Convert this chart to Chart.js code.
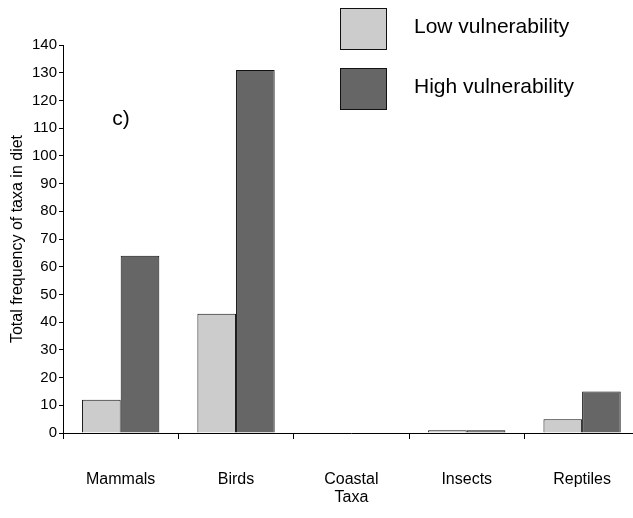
<!DOCTYPE html>
<html>
<head>
<meta charset="utf-8">
<script src="https://cdn.jsdelivr.net/npm/chart.js@4/dist/chart.umd.min.js"></script>
<style>
    body { margin: 0; overflow: hidden; background: #fff; }
    #wrap { position: absolute; left: 0; top: 0; width: 642px; height: 518px; }
</style>
</head>
<body>
<div id="wrap"><canvas id="chart"></canvas></div>
<script>
// Data
const taxa = ['Mammals', 'Birds', 'Coastal', 'Insects', 'Reptiles'];
const lowVulnerability = [12, 43, 0, 1, 5];
const highVulnerability = [64, 131, 0, 1, 15];
const yTicks = [0, 10, 20, 30, 40, 50, 60, 70, 80, 90, 100, 110, 120, 130, 140];

const FONT = 'Arial, "Liberation Sans", sans-serif';

// legend boxes + panel label, drawn on top of the chart
const extras = {
    id: 'extras',
    afterDraw(chart) {
        const ctx = chart.ctx;
        ctx.save();
        chart.data.datasets.forEach((ds, i) => {
            const y = 8 + i * 60;
            ctx.fillStyle = ds.backgroundColor;
            ctx.fillRect(340, y, 46, 41);
            ctx.strokeStyle = '#111';
            ctx.lineWidth = 1;
            ctx.strokeRect(340.5, y + 0.5, 46, 41);
            ctx.fillStyle = '#000';
            ctx.font = '21px ' + FONT;
            ctx.textBaseline = 'middle';
            ctx.fillText(ds.label, 414, y + 19);
        });
        ctx.font = '21px ' + FONT;
        ctx.textBaseline = 'middle';
        ctx.textAlign = 'center';
        ctx.fillText('c)', 121, 119);
        ctx.restore();
    }
};

const ctx = document.getElementById('chart').getContext('2d');
const chart = new Chart(ctx, {
    type: 'bar',
    data: {
        labels: taxa,
        datasets: [{
            label: 'Low vulnerability',
            data: lowVulnerability,
            backgroundColor: '#cccccc',
            borderColor: '#111',
            borderWidth: 1,
            categoryPercentage: 0.67,
            barPercentage: 1.0
        }, {
            label: 'High vulnerability',
            data: highVulnerability,
            backgroundColor: '#666666',
            borderColor: '#111',
            borderWidth: 1,
            categoryPercentage: 0.67,
            barPercentage: 1.0
        }]
    },
    options: {
        responsive: true,
        maintainAspectRatio: false,
        animation: false,
        layout: { padding: { top: 45, right: 0, bottom: 11, left: 0 } },
        plugins: {
            legend: { display: false },
            tooltip: { enabled: false }
        },
        scales: {
            x: {
                afterFit: scale => { scale.height = 74; },
                grid: { drawOnChartArea: false, drawTicks: true, tickLength: 6, color: '#000', offset: true },
                border: { color: '#000', width: 1 },
                ticks: { color: '#000', font: { family: FONT, size: 16 }, padding: 31 },
                title: { display: true, text: 'Taxa', color: '#000', font: { family: FONT, size: 16 }, padding: 0 }
            },
            y: {
                min: 0,
                max: 140,
                afterFit: scale => { scale.width = 63; },
                afterBuildTicks: scale => { scale.ticks = yTicks.map(v => ({ value: v })); },
                grid: { drawOnChartArea: false, drawTicks: true, tickLength: 4, color: '#000' },
                border: { color: '#000', width: 1 },
                ticks: { color: '#000', font: { family: FONT, size: 15 }, padding: 2 },
                title: { display: true, text: 'Total frequency of taxa in diet', color: '#000', font: { family: FONT, size: 16 }, padding: { top: 8, bottom: 0 } }
            }
        }
    },
    plugins: [extras]
});
</script>
</body>
</html>
